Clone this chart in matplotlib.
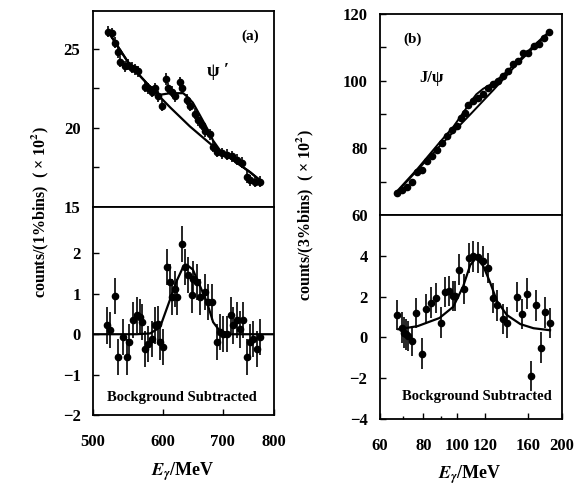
import matplotlib
matplotlib.use("Agg")
import matplotlib.pyplot as plt
from matplotlib.ticker import NullFormatter, NullLocator

plt.rcParams["font.family"] = ["Liberation Serif", "DejaVu Serif"]
plt.rcParams["font.weight"] = "bold"
plt.rcParams["mathtext.fontset"] = "stix"

# (a) psi' radiative decays, 1% bins
PSIP_E = [520, 525, 529, 533.5, 536, 543, 547.5, 553, 558, 562, 572, 577, 583, 587,
          592, 598, 604, 607, 614, 619, 627, 630, 638, 643, 652, 657, 664, 669, 678,
          683, 690, 699, 708, 717, 727, 736, 746, 752, 761, 772]
PSIP_COUNTS = [26.1, 26.0, 25.4, 24.8, 24.2, 23.9, 24.0, 23.8, 23.7, 23.6, 22.6, 22.5,
               22.3, 22.5, 22.0, 21.4, 23.1, 22.5, 22.3, 22.0, 22.9, 22.5, 21.8, 21.4,
               20.9, 20.5, 20.2, 19.8, 19.6, 18.8, 18.5, 18.4, 18.3, 18.2, 18.0, 17.8,
               16.9, 16.7, 16.6, 16.6]
PSIP_FIT_E = [520, 550, 580, 595, 611, 622, 632, 638, 648, 660, 672, 683, 695, 714, 752, 775]
PSIP_FIT = [26.1, 24.0, 22.6, 22.1, 22.2, 22.2, 22.2, 22.0, 21.6, 20.8, 20.0, 19.2,
            18.6, 18.1, 17.2, 16.6]
PSIP_BG_E = [520, 550, 580, 611, 643, 678, 714, 752, 775]
PSIP_BG = [26.1, 24.0, 22.6, 21.3, 20.1, 19.0, 18.1, 17.2, 16.6]

PSIP_SUB_E = [518.5, 522.6, 529, 533.5, 540.5, 546, 549, 555, 560.5, 565, 568, 572, 577,
              583, 587, 592, 595, 600, 606, 611, 614, 619, 622, 630, 635, 640, 647, 648,
              655, 660, 669, 674, 681, 690, 695, 701, 708, 715, 719, 727, 732, 738, 746,
              752, 758, 766, 772]
PSIP_SUB = [0.22, 0.1, 0.95, -0.57, -0.07, -0.57, -0.2, 0.35, 0.47, 0.42, 0.3, -0.37,
            -0.25, -0.12, 0.22, 0.25, -0.2, -0.32, 1.67, 1.3, 0.92, 1.12, 0.92, 2.24,
            1.67, 1.47, 0.97, 1.37, 1.3, 0.92, 1.04, 0.8, 0.8, -0.2, 0.05, 0.0, 0.0,
            0.47, 0.22, 0.35, 0.12, 0.35, -0.57, -0.2, -0.12, -0.37, -0.07]
PSIP_SUB_FIT_E = [500, 560, 580, 595, 611, 622, 632, 638, 648, 660, 672, 683, 695, 714, 800]
PSIP_SUB_FIT = [0.0, 0.0, 0.02, 0.17, 0.87, 1.34, 1.67, 1.72, 1.6, 1.2, 0.8, 0.3, 0.08, 0.0, 0.0]

# (b) J/psi radiative decays, 3% bins
JPSI_E = [67.0, 69.3, 71.6, 74.0, 76.5, 79.1, 81.7, 84.5, 87.3, 90.3, 93.3, 96.4, 99.7,
          102.4, 105.3, 107.6, 111.2, 115.0, 118.8, 122.9, 127.0, 131.3, 135.7, 140.2,
          144.9, 149.8, 154.8, 160.0, 166.2, 172.2, 177.6, 184.0]
JPSI_COUNTS = [66.7, 67.5, 68.5, 70.0, 72.7, 73.5, 76.0, 77.5, 79.5, 81.5, 83.5, 85.5,
               86.5, 89.0, 90.5, 92.7, 94.0, 95.0, 96.0, 98.0, 99.0, 100.0, 101.5, 103.0,
               105.0, 106.0, 108.5, 108.5, 110.5, 111.0, 112.7, 114.5]
JPSI_FIT_E = [67.0, 76.9, 88.9, 97.4, 104, 109, 113.4, 118.8, 124.6, 129.9, 138.8, 151.9,
              165.6, 184.0]
JPSI_FIT = [67.0, 73.8, 81.6, 86.3, 90.5, 93.6, 96.0, 97.7, 98.9, 100.2, 102.8, 106.6,
            110.5, 114.8]
JPSI_BG_E = [67.0, 88.9, 109.0, 127.0, 148.3, 184.0]
JPSI_BG = [66.7, 80.5, 90.0, 97.3, 105.0, 114.6]

JPSI_SUB_E = [67.3, 69.3, 70.3, 71.3, 72.3, 74.0, 76.1, 79.1, 81.3, 84.1, 86.9, 89.7,
              92.3, 94.9, 97.1, 98.6, 101.4, 104.6, 108.3, 111.2, 115.0, 118.8, 122.9,
              126.5, 129.9, 135.1, 138.8, 148.3, 153.3, 158.4, 163.0, 168.5, 173.8,
              178.8, 184.8]
JPSI_SUB = [1.1, 0.48, 0.23, 0.15, 0.07, -0.18, 1.2, -0.8, 1.4, 1.7, 1.93, 0.73, 2.23,
            2.27, 2.03, 2.03, 3.32, 2.37, 3.9, 3.98, 3.93, 3.73, 3.4, 1.93, 1.57, 0.9,
            0.73, 1.98, 1.15, 2.15, -1.9, 1.57, -0.5, 1.23, 0.7]
JPSI_SUB_FIT_E = [67.8, 76.9, 88.9, 97.4, 104, 109, 113.4, 118.8, 124.6, 129.9, 138.8,
                  151.9, 165.6, 184.8]
JPSI_SUB_FIT = [0.4, 0.55, 0.95, 1.5, 2.5, 3.55, 3.9, 3.5, 2.65, 1.8, 1.1, 0.65, 0.45, 0.35]

PSIP_XTICKS = [500, 600, 700, 800]
JPSI_XTICKS = [60, 80, 100, 120, 160, 200]

W, H = 576, 486


def _axes(fig, x0, x1, y_top, y_bot):
    # pixel box -> figure fraction
    return fig.add_axes([x0 / W, 1 - y_bot / H, (x1 - x0) / W, (y_bot - y_top) / H])


def _style(ax, xlim, xticks=None):
    ax.set_xscale("log")
    ax.set_xlim(*xlim)
    for sp in ax.spines.values():
        sp.set_linewidth(1.3)
    ax.tick_params(which="both", direction="in", top=False, right=False,
                   width=1.0, labelsize=12, pad=9)
    ax.tick_params(which="major", length=4)
    ax.tick_params(which="minor", length=2.5)
    ax.yaxis.set_minor_locator(NullLocator())
    if xticks is None:
        ax.xaxis.set_major_locator(NullLocator())
        ax.xaxis.set_minor_locator(NullLocator())
        ax.xaxis.set_minor_formatter(NullFormatter())
    else:
        ax.set_xticks(xticks)
        ax.set_xticklabels([str(t) for t in xticks])
        ax.xaxis.set_minor_formatter(NullFormatter())
        ax.tick_params(axis="x", pad=14)


def _points(ax, x, y, err):
    ax.errorbar(x, y, yerr=err, fmt="o", ms=4.5, color="black", ecolor="black",
                elinewidth=1.2, capsize=0)


fig = plt.figure(figsize=(W / 100, H / 100), dpi=100)

# ---- (a) psi'
ax = _axes(fig, 93, 274, 11, 207)
_points(ax, PSIP_E, PSIP_COUNTS, 0.35)
ax.plot(PSIP_FIT_E, PSIP_FIT, color="black", lw=1.6)
ax.plot(PSIP_BG_E, PSIP_BG, color="black", lw=1.6)
_style(ax, (500, 800))
ax.set_ylim(15, 27.4)
ax.set_yticks([15, 17.5, 20, 22.5, 25])
ax.set_yticklabels(["15", "", "20", "", "25"])
ax.text(0.87, 0.87, "(a)", transform=ax.transAxes, fontsize=11, ha="center", va="center")
ax.text(0.69, 0.69, "ψ ′", transform=ax.transAxes, fontsize=13, ha="center", va="center")

ax = _axes(fig, 93, 274, 207, 415)
_points(ax, PSIP_SUB_E, PSIP_SUB, 0.45)
ax.plot(PSIP_SUB_FIT_E, PSIP_SUB_FIT, color="black", lw=1.6)
_style(ax, (500, 800), PSIP_XTICKS)
ax.set_ylim(-2, 3.15)
ax.set_yticks([-2, -1, 0, 1, 2])
ax.set_yticklabels(["−2", "−1", "0", "1", "2"])
ax.text(0.49, 0.085, "Bockground Subtracted", transform=ax.transAxes, fontsize=10.5,
        ha="center", va="center")

# ---- (b) J/psi
ax = _axes(fig, 380, 562, 14, 215)
_points(ax, JPSI_E, JPSI_COUNTS, 0.6)
ax.plot(JPSI_FIT_E, JPSI_FIT, color="black", lw=1.4)
ax.plot(JPSI_BG_E, JPSI_BG, color="black", lw=1.4)
_style(ax, (60, 200))
ax.set_ylim(60, 120)
ax.set_yticks([60, 70, 80, 90, 100, 110, 120])
ax.set_yticklabels(["60", "", "80", "", "100", "", "120"])
ax.text(0.18, 0.875, "(b)", transform=ax.transAxes, fontsize=11, ha="center", va="center")
ax.text(0.285, 0.68, "J/ψ", transform=ax.transAxes, fontsize=12, ha="center", va="center")

ax = _axes(fig, 380, 562, 215, 419)
_points(ax, JPSI_SUB_E, JPSI_SUB, 0.75)
ax.plot(JPSI_SUB_FIT_E, JPSI_SUB_FIT, color="black", lw=1.6)
_style(ax, (60, 200), JPSI_XTICKS)
ax.set_ylim(-4, 6)
ax.set_yticks([-4, -2, 0, 2, 4])
ax.set_yticklabels(["−4", "−2", "0", "2", "4"])
ax.text(0.53, 0.11, "Bockground Subtracted", transform=ax.transAxes, fontsize=10.5,
        ha="center", va="center")

# shared labels
fig.text(40 / W, 1 - 212 / H, "counts/(1%bins)  ( × 10$^2$)", rotation=90,
         fontsize=11.5, ha="center", va="center")
fig.text(305 / W, 1 - 215 / H, "counts/(3%bins)  ( × 10$^2$)", rotation=90,
         fontsize=11.5, ha="center", va="center")
fig.text(183 / W, 1 - 472 / H, "$E_\\gamma$/MeV", fontsize=13, ha="center", va="center")
fig.text(470 / W, 1 - 475 / H, "$E_\\gamma$/MeV", fontsize=13, ha="center", va="center")

fig.savefig("out.png", dpi=100)
